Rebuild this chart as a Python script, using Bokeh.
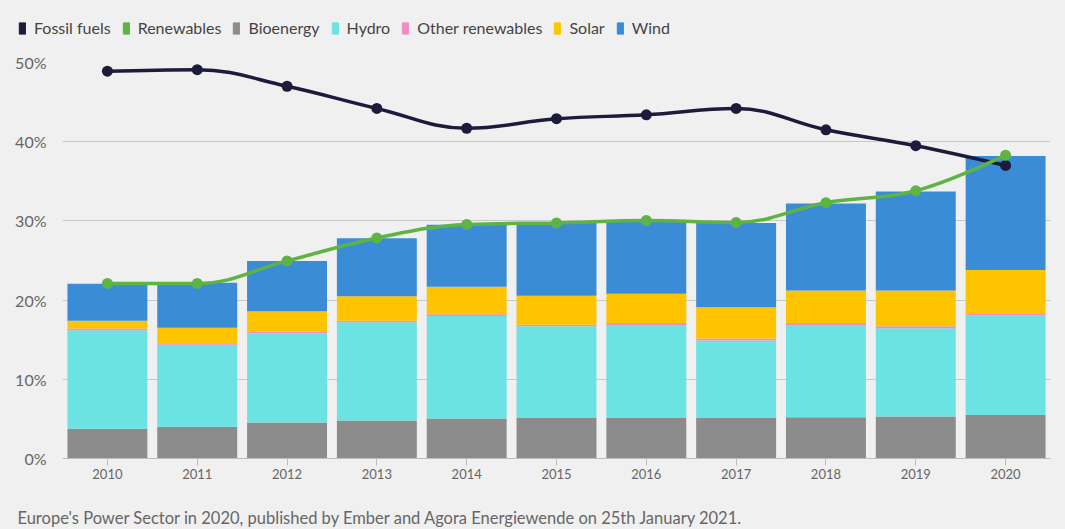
from bokeh.plotting import figure
from bokeh.layouts import column
from bokeh.models import (Range1d, FixedTicker, PrintfTickFormatter, Legend, LegendItem,
                          Label, ColumnDataSource)
from bokeh.embed import file_html
from bokeh.resources import INLINE

# ---------------- data ----------------
years = [2010, 2011, 2012, 2013, 2014, 2015, 2016, 2017, 2018, 2019, 2020]
year_labels = ["2010", "2011", "2012", "2013", "2014", "2015", "2016", "2017", "2018", "2019", "2020"]
y_ticks = [0, 10, 20, 30, 40, 50]

bioenergy = [3.75, 4.0, 4.55, 4.8, 5.05, 5.1, 5.1, 5.1, 5.2, 5.3, 5.5]
hydro = [12.45, 10.35, 11.25, 12.4, 12.95, 11.6, 11.75, 9.8, 11.65, 11.15, 12.55]
other_renewables = [0.2, 0.2, 0.2, 0.2, 0.2, 0.2, 0.25, 0.25, 0.25, 0.25, 0.3]
solar = [1.0, 1.95, 2.6, 3.1, 3.5, 3.65, 3.7, 3.95, 4.1, 4.5, 5.45]
wind = [4.65, 5.7, 6.35, 7.3, 7.8, 9.2, 9.1, 10.65, 11.0, 12.5, 14.4]

fossil_fuels = [48.9, 49.1, 47.0, 44.2, 41.7, 42.9, 43.4, 44.2, 41.5, 39.5, 37.0]
renewables = [22.1, 22.1, 24.95, 27.85, 29.55, 29.75, 30.05, 29.8, 32.3, 33.8, 38.3]

series_names = ["Bioenergy", "Hydro", "Other renewables", "Solar", "Wind"]
legend_names = ["Fossil fuels", "Renewables"] + series_names
colors = {
    "Fossil fuels": "#1d1b3b",
    "Renewables": "#5db443",
    "Bioenergy": "#8c8c8c",
    "Hydro": "#6be3e3",
    "Other renewables": "#f28cc4",
    "Solar": "#ffc400",
    "Wind": "#3a8cd6",
}
BG = "#f0f0f0"
FONT = "Lato"
FOOTER = "Europe's Power Sector in 2020, published by Ember and Agora Energiewende on 25th January 2021."
W = 1065


def bare_figure(height):
    f = figure(width=W, height=height, output_backend="svg", toolbar_location=None,
               x_range=Range1d(0, 1), y_range=Range1d(0, 1),
               x_axis_location=None, y_axis_location=None, min_border=0,
               frame_align=False)
    f.background_fill_color = BG
    f.border_fill_color = BG
    f.outline_line_color = None
    f.grid.grid_line_color = None
    return f


# ---------------- legend strip ----------------
top = bare_figure(48)
items = []
for name in legend_names:
    # off-screen swatch renderer, only used for the legend glyph
    r = top.vbar(x=[-10], top=[-10], width=0.5, color=colors[name])
    items.append(LegendItem(label=name, renderers=[r]))
legend = Legend(items=items, orientation="horizontal", location=(18, 11),
                glyph_width=8, glyph_height=14, label_standoff=8, spacing=11,
                label_text_font=FONT, label_text_font_size="16px", label_text_color="#444444",
                label_height=14, padding=0, margin=0, border_line_color=None,
                background_fill_alpha=0)
top.add_layout(legend, "center")

# ---------------- main chart ----------------
p = figure(width=W, height=442, output_backend="svg", toolbar_location=None,
           x_range=Range1d(2009.5, 2020.5), y_range=Range1d(0, 50),
           min_border_left=62, min_border_right=15, min_border_top=14, min_border_bottom=32,
           frame_align=False)
p.background_fill_color = BG
p.border_fill_color = BG
p.outline_line_color = None

src = ColumnDataSource(dict(x=years, Bioenergy=bioenergy, Hydro=hydro,
                            **{"Other renewables": other_renewables},
                            Solar=solar, Wind=wind))
p.vbar_stack(series_names, x="x", width=0.89, source=src,
             color=[colors[n] for n in series_names], line_width=0)


def spline_controls(xs, ys, smoothing=1.5):
    n = len(xs)
    left = [(xs[i], ys[i]) for i in range(n)]
    right = [(xs[i], ys[i]) for i in range(n)]
    denom = smoothing + 1
    for i in range(1, n - 1):
        px, py = xs[i], ys[i]
        lx, ly = xs[i - 1], ys[i - 1]
        nx, ny = xs[i + 1], ys[i + 1]
        lcx = (smoothing * px + lx) / denom
        lcy = (smoothing * py + ly) / denom
        rcx = (smoothing * px + nx) / denom
        rcy = (smoothing * py + ny) / denom
        corr = 0
        if rcx != lcx:
            corr = ((rcy - lcy) * (rcx - px)) / (rcx - lcx) + py - rcy
        lcy += corr
        rcy += corr
        if lcy > ly and lcy > py:
            lcy = max(ly, py); rcy = 2 * py - lcy
        elif lcy < ly and lcy < py:
            lcy = min(ly, py); rcy = 2 * py - lcy
        if rcy > ny and rcy > py:
            rcy = max(ny, py); lcy = 2 * py - rcy
        elif rcy < ny and rcy < py:
            rcy = min(ny, py); lcy = 2 * py - rcy
        left[i] = (lcx, lcy)
        right[i] = (rcx, rcy)
    return dict(x0=xs[:-1], y0=ys[:-1], x1=xs[1:], y1=ys[1:],
                cx0=[right[i][0] for i in range(n - 1)], cy0=[right[i][1] for i in range(n - 1)],
                cx1=[left[i][0] for i in range(1, n)], cy1=[left[i][1] for i in range(1, n)])


for name, vals in (("Fossil fuels", fossil_fuels), ("Renewables", renewables)):
    p.bezier(source=ColumnDataSource(spline_controls(years, vals)),
             x0="x0", y0="y0", x1="x1", y1="y1", cx0="cx0", cy0="cy0", cx1="cx1", cy1="cy1",
             line_color=colors[name], line_width=3.5)
    p.scatter(years, vals, size=11, marker="circle", color=colors[name], line_width=0)

p.xaxis.ticker = FixedTicker(ticks=years)
p.xaxis.major_label_overrides = {y: l for y, l in zip(years, year_labels)}
p.xaxis.axis_line_color = "#bdbdbd"
p.xaxis.major_tick_line_color = "#bdbdbd"
p.xaxis.major_tick_out = 7
p.xaxis.major_tick_in = 0
p.xaxis.minor_tick_line_color = None
p.xaxis.major_label_text_font = FONT
p.xaxis.major_label_text_font_size = "13px"
p.xaxis.major_label_text_color = "#666666"
p.xaxis.major_label_standoff = 3

p.yaxis.ticker = FixedTicker(ticks=y_ticks)
p.yaxis.formatter = PrintfTickFormatter(format="%d%%")
p.yaxis.axis_line_color = None
p.yaxis.major_tick_line_color = None
p.yaxis.minor_tick_line_color = None
p.yaxis.major_label_text_font = FONT
p.yaxis.major_label_text_font_size = "16px"
p.yaxis.major_label_text_color = "#666666"
p.yaxis.major_label_standoff = 10

p.xgrid.grid_line_color = None
p.ygrid.ticker = FixedTicker(ticks=y_ticks)
p.ygrid.grid_line_color = "#c8c8c8"
p.ygrid.grid_line_width = 1

# ---------------- footer strip ----------------
bottom = bare_figure(39)
bottom.add_layout(Label(x=17, y=12, x_units="screen", y_units="screen", text=FOOTER,
                        text_font=FONT, text_font_size="16.5px", text_color="#666666",
                        text_baseline="middle"))

layout = column(top, p, bottom, spacing=0, styles={"background-color": BG})
open("out.html", "w").write(file_html(layout, INLINE))
